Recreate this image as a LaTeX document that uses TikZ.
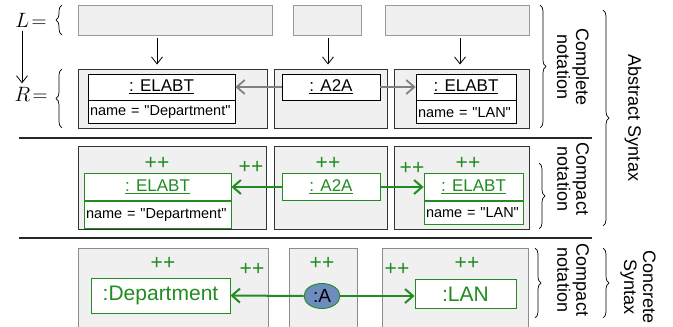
\documentclass[tikz,border=0pt]{standalone}
\usepackage{fontspec}
\setmainfont{Liberation Sans}[Ligatures=TeXOff]
\usepackage{xcolor}
\usetikzlibrary{arrows.meta, positioning, calc, decorations.pathreplacing, shapes.geometric}

\definecolor{boxgray}{RGB}{240,240,240}
\definecolor{umlgreen}{RGB}{34,139,34}
\definecolor{ablue}{RGB}{110,140,190}

\begin{document}
\begin{tikzpicture}[x=1pt, y=-1pt,
		lbox/.style={draw=black!40, fill=boxgray, line width=0.8pt},
		rbox/.style={draw=black!80, fill=boxgray, line width=1pt},
		cbox/.style={draw=black!45, fill=boxgray, line width=1pt},
		head/.style={draw=black, fill=white, line width=0.8pt, inner sep=0pt, font=\fontsize{17}{17}\selectfont},
		attr/.style={draw=black, fill=white, line width=0.8pt, inner xsep=2pt, inner ysep=0pt, anchor=north, align=left, text=black, font=\fontsize{14.5}{15}\selectfont},
		newitem/.style={draw=umlgreen, text=umlgreen},
		concr/.style={draw=umlgreen, fill=white, text=umlgreen, line width=0.9pt, inner sep=0pt, font=\fontsize{21}{21}\selectfont},
		plus/.style={text=umlgreen, font=\fontsize{21}{21}\selectfont},
		side/.style={rotate=-90, align=center, font=\fontsize{18}{19}\selectfont},
		darr/.style={-{Straight Barb[length=7pt,width=11pt]}, line width=0.8pt},
		grayarr/.style={-{Straight Barb[length=8pt,width=14pt]}, draw=black!50, line width=1.8pt},
		greenarr/.style={-{Straight Barb[length=8pt,width=14pt]}, draw=umlgreen, line width=2pt},
		sepline/.style={line width=1.2pt, draw=black!85},
		curly/.style={decorate, decoration={brace, amplitude=6pt}, line width=0.7pt}
	]
	\useasboundingbox (0,0) rectangle (673,327);
	
	% L and R
	\node[font=\fontsize{20}{20}\selectfont] (lhs) at (31,20) {$L\!=$};
	\node[font=\fontsize{20}{20}\selectfont] (rhs) at (31,94) {$R\!=$};
	\coordinate (lr) at (22,0);
	\draw[darr] (lhs.south -| lr) -- (rhs.north -| lr);
	\draw[curly] (62,35) -- (62,5);
	\draw[curly] (62,128) -- (62,69);
	
	% Left-hand side (empty)
	\node[lbox, minimum width=194, minimum height=30] (l1) at (175,20) {};
	\node[lbox, minimum width=68, minimum height=30] (l2) at (327,20) {};
	\node[lbox, minimum width=144, minimum height=30] (l3) at (457,20) {};
	
	% Right-hand side, complete notation
	\node[rbox, minimum width=189, minimum height=59] (r1) at (172.5,98.5) {};
	\node[rbox, minimum width=113, minimum height=59] (r2) at (330.5,98.5) {};
	\node[rbox, minimum width=135, minimum height=59] (r3) at (461.5,98.5) {};
	
	\coordinate (d1) at (157,0);
	\coordinate (d2) at (328,0);
	\coordinate (d3) at (460,0);
	\foreach \i in {1,2,3} {
		\draw[darr, shorten <=3pt, shorten >=4pt] (l\i.south -| d\i) -- (r\i.north -| d\i);
	}
	
	\node[head, minimum width=147, minimum height=26] (e1) at (161.5,87) {\underline{: ELABT}};
	\node[attr, text width=143, minimum height=23] (e1n) at (e1.south) {name = "Department"};
	\node[head, minimum width=98, minimum height=26] (a1) at (331,87) {\underline{: A2A}};
	\node[head, minimum width=100, minimum height=26] (e3) at (466,87) {\underline{: ELABT}};
	\node[attr, text width=96, minimum height=23] (e3n) at (e3.south) {name = "LAN"};
	\draw[grayarr] (a1.west) -- (e1.east);
	\draw[grayarr] (a1.east) -- (e3.west);
	
	\draw[sepline] (19,138) -- (592,138);
	
	% Compact notation (abstract syntax)
	\node[rbox, minimum width=188, minimum height=83] (m1) at (172,187.5) {};
	\node[rbox, minimum width=113, minimum height=83] (m2) at (330.5,187.5) {};
	\node[rbox, minimum width=135, minimum height=83] (m3) at (461.5,187.5) {};
	
	\node[head, newitem, minimum width=147, minimum height=27] (ge1) at (157.5,187) {\underline{: ELABT}};
	\node[attr, newitem, text=black, text width=143, minimum height=27] (ge1n) at (ge1.south) {name = "Department"};
	\node[head, newitem, minimum width=98, minimum height=27] (ga) at (331,187) {\underline{: A2A}};
	\node[head, newitem, minimum width=99, minimum height=27] (ge3) at (473.5,187) {\underline{: ELABT}};
	\node[attr, newitem, text=black, text width=95, minimum height=23] (ge3n) at (ge3.south) {name = "LAN"};
	\draw[greenarr] (ga.west) -- (ge1.east);
	\draw[greenarr] (ga.east) -- (ge3.west);
	
	\foreach \x/\y [count=\i] in {157/163, 251/167, 328/163, 412/168, 468/163} {
		\node[plus] (p\i) at (\x,\y) {++};
	}
	
	\draw[sepline] (19,238) -- (592,238);
	
	% Compact notation (concrete syntax)
	\node[cbox, minimum width=190, minimum height=84] (b1) at (173,290) {};
	\node[cbox, minimum width=68, minimum height=84] (b2) at (323,290) {};
	\node[cbox, minimum width=146, minimum height=84] (b3) at (455,290) {};
	
	\node[concr, minimum width=139, minimum height=35] (dep) at (160.5,295.5) {:Department};
	\node[concr, minimum width=101, minimum height=29] (lan) at (465.5,294) {:LAN};
	\node[ellipse, draw=umlgreen, fill=ablue, line width=0.9pt, inner sep=0pt, minimum width=36, minimum height=25, font=\fontsize{19}{19}\selectfont] (ea) at (322,296) {:A};
	\draw[greenarr] (ea.west) -- (dep.east);
	\draw[greenarr] (ea.east) -- (ea.east -| lan.west);
	
	\foreach \x/\y [count=\i] in {163/263, 252/269, 322/263, 397/269, 467/263} {
		\node[plus] (q\i) at (\x,\y) {++};
	}
	
	% Braces and labels
	\draw[curly] (540,5) -- (540,128);
	\node[side] (cn1) at (573,67) {Complete\\notation};
	\draw[curly] (539,163) -- (539,229);
	\node[side] (cn2) at (573,179) {Compact\\notation};
	\draw[curly] (535,248) -- (535,318);
	\node[side] (cn3) at (573,280) {Compact\\notation};
	
	\draw[curly] (603,10) -- (603,226);
	\node[side] (as) at (633,118) {Abstract Syntax};
	\draw[curly] (603,248) -- (603,318);
	\node[side] (cs) at (638,287) {Concrete\\Syntax};
	
\end{tikzpicture}
\end{document}
